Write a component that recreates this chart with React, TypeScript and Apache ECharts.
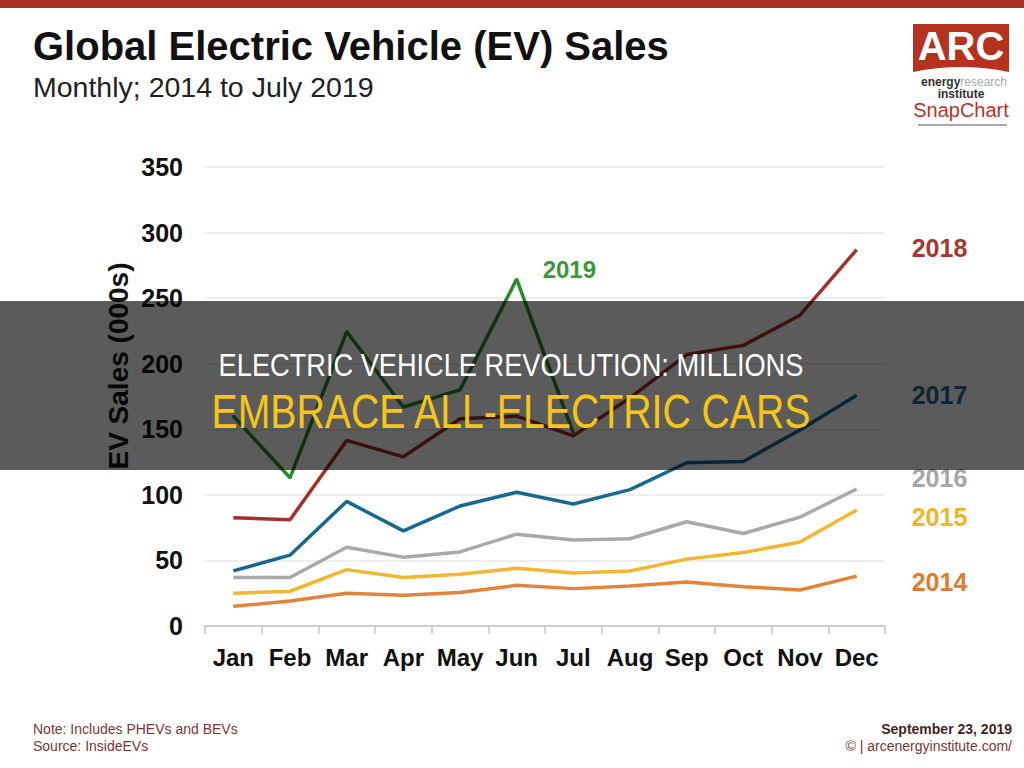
import React, { useEffect, useRef } from "react";
import * as echarts from "echarts";

const months = ["Jan", "Feb", "Mar", "Apr", "May", "Jun", "Jul", "Aug", "Sep", "Oct", "Nov", "Dec"];
const yTicks = { min: 0, max: 350, interval: 50 };

const sales2014 = [15, 19, 25, 23.5, 25.5, 31, 28.5, 30.5, 33.5, 30, 27.5, 38];
const sales2015 = [25, 26.5, 43, 37, 39.5, 44, 40.5, 42, 51, 56, 64, 88.5];
const sales2016 = [37, 37, 60, 52.5, 56.5, 70, 65.5, 66.5, 79.5, 70.5, 83, 104.5];
const sales2017 = [42, 54, 95, 72.5, 91.5, 102, 93, 104, 124.5, 125.5, 149.5, 176];
const sales2018 = [82.5, 81, 141.5, 129, 158, 160, 145, 174, 207, 214, 237, 287];
const sales2019 = [160, 113, 224.5, 167, 180, 264.5, 147];

const seriesNames = ["2014", "2015", "2016", "2017", "2018", "2019"];
const lineColors = ["#e4833a", "#f2b731", "#a9a9a9", "#17698f", "#a3302a", "#2d8a2d"];
const labelColors = ["#e07b30", "#f0b429", "#a6a6a6", "#1f6a94", "#a3392f", "#3a9a3a"];
const endLabelOffsets = [6, 7, -11, 0, -2, 0];

const FONT = "'Liberation Sans', Arial, Helvetica, sans-serif";

export default function App() {
  const ref = useRef<HTMLDivElement>(null);

  useEffect(() => {
    if (!ref.current) return;
    const chart = echarts.init(ref.current, null, { renderer: "svg" });

    echarts.graphic.registerShape(
      "arcLogo",
      echarts.graphic.extendPath("M0,0 L96,0 L96,48 Q48,38 0,48 Z", {})
    );

    const allData = [sales2014, sales2015, sales2016, sales2017, sales2018, sales2019];

    const series: any[] = allData.map((d, i) => {
      const isLast = i === 5;
      const base: any = {
        name: seriesNames[i],
        type: "line",
        data: d,
        symbol: "none",
        lineStyle: { color: lineColors[i], width: 3.5 },
        itemStyle: { color: lineColors[i] },
        z: 2 + i,
      };
      if (isLast) {
        base.symbol = "circle";
        base.symbolSize = 2;
        base.showSymbol = true;
        base.showAllSymbol = true;
        base.label = {
          show: true,
          position: "right",
          distance: 25,
          offset: [0, -10],
          formatter: (p: any) => (p.dataIndex === 5 ? p.seriesName : ""),
          color: labelColors[i],
          fontSize: 24,
          fontWeight: "bold",
          fontFamily: FONT,
        };
      } else {
        base.endLabel = {
          show: true,
          formatter: "{a}",
          distance: 55,
          offset: [0, endLabelOffsets[i]],
          color: labelColors[i],
          fontSize: 25,
          fontWeight: "bold",
          fontFamily: FONT,
        };
      }
      return base;
    });

    chart.setOption({
      animation: false,
      backgroundColor: "#ffffff",
      title: [
        {
          text: "Global Electric Vehicle (EV) Sales",
          left: 33,
          top: 26,
          padding: 0,
          textStyle: { fontSize: 40, fontWeight: "bold", color: "#111", fontFamily: FONT },
        },
        {
          text: "Monthly; 2014 to July 2019",
          left: 33,
          top: 72,
          padding: 0,
          textStyle: { fontSize: 28.5, fontWeight: "normal", color: "#222", fontFamily: FONT },
        },
      ],
      grid: { left: 205, right: 139, top: 167, bottom: 142, containLabel: false },
      xAxis: {
        type: "category",
        data: months,
        boundaryGap: true,
        axisLine: { show: true, lineStyle: { color: "#c4c4c4", width: 1.5 } },
        axisTick: { show: true, length: 8, lineStyle: { color: "#c4c4c4", width: 1.5 } },
        axisLabel: {
          interval: 0,
          color: "#111",
          fontSize: 24,
          fontWeight: "bold",
          fontFamily: FONT,
          margin: 19,
        },
      },
      yAxis: {
        type: "value",
        min: yTicks.min,
        max: yTicks.max,
        interval: yTicks.interval,
        axisLine: { show: false },
        axisTick: { show: false },
        splitLine: { lineStyle: { color: "#e8e8e8", width: 1.5 } },
        axisLabel: { color: "#111", fontSize: 25, fontWeight: "bold", fontFamily: FONT, margin: 22 },
      },
      series,
      graphic: [
        { type: "rect", shape: { x: 0, y: 0, width: 1024, height: 8 }, style: { fill: "#a83224" }, z: 10 },
        {
          type: "text",
          x: 118,
          y: 366,
          rotation: Math.PI / 2,
          style: {
            text: "EV Sales (000s)",
            fill: "#111",
            font: `bold 28px ${FONT}`,
            textAlign: "center",
            textVerticalAlign: "middle",
          },
          z: 10,
        },
        {
          type: "arcLogo",
          x: 913,
          y: 24,
          scaleX: 1,
          scaleY: 1,
          style: { fill: "#b5321f" },
          z: 10,
        },
        {
          type: "text",
          x: 961,
          y: 46,
          style: {
            text: "ARC",
            fill: "#ffffff",
            font: `bold 40px ${FONT}`,
            textAlign: "center",
            textVerticalAlign: "middle",
          },
          z: 11,
        },
        {
          type: "text",
          x: 921,
          y: 82,
          style: {
            text: "{a|energy}{b|research}",
            rich: {
              a: { fill: "#333", font: `bold 12px ${FONT}` },
              b: { fill: "#aaaaaa", font: `12px ${FONT}` },
            },
            textVerticalAlign: "middle",
          },
          z: 11,
        },
        {
          type: "text",
          x: 961,
          y: 94,
          style: {
            text: "institute",
            fill: "#333",
            font: `bold 12px ${FONT}`,
            textAlign: "center",
            textVerticalAlign: "middle",
          },
          z: 11,
        },
        {
          type: "text",
          x: 961,
          y: 110,
          style: {
            text: "SnapChart",
            fill: "#b8312a",
            font: `20px ${FONT}`,
            textAlign: "center",
            textVerticalAlign: "middle",
          },
          z: 11,
        },
        {
          type: "line",
          shape: { x1: 918, y1: 125, x2: 1007, y2: 125 },
          style: { stroke: "#555", lineWidth: 1 },
          z: 11,
        },
        {
          type: "text",
          x: 33,
          y: 729,
          style: {
            text: "Note: Includes PHEVs and BEVs",
            fill: "#7d3535",
            font: `14px ${FONT}`,
            textVerticalAlign: "middle",
          },
        },
        {
          type: "text",
          x: 33,
          y: 746,
          style: {
            text: "Source: InsideEVs",
            fill: "#7d3535",
            font: `14px ${FONT}`,
            textVerticalAlign: "middle",
          },
        },
        {
          type: "text",
          x: 1012,
          y: 729,
          style: {
            text: "September 23, 2019",
            fill: "#4a1f1f",
            font: `bold 14px ${FONT}`,
            textAlign: "right",
            textVerticalAlign: "middle",
          },
        },
        {
          type: "text",
          x: 1012,
          y: 746,
          style: {
            text: "© | arcenergyinstitute.com/",
            fill: "#7d3535",
            font: `14px ${FONT}`,
            textAlign: "right",
            textVerticalAlign: "middle",
          },
        },
        {
          type: "rect",
          shape: { x: 0, y: 301, width: 1024, height: 169 },
          style: { fill: "rgba(0,0,0,0.645)" },
          z: 100,
        },
        {
          type: "text",
          x: 511,
          y: 365,
          scaleX: 0.85,
          style: {
            text: "ELECTRIC VEHICLE REVOLUTION: MILLIONS",
            fill: "#ffffff",
            font: `32px ${FONT}`,
            textAlign: "center",
            textVerticalAlign: "middle",
          },
          z: 101,
        },
        {
          type: "text",
          x: 511,
          y: 411,
          scaleX: 0.8,
          style: {
            text: "EMBRACE ALL-ELECTRIC CARS",
            fill: "#f5c518",
            font: `49px ${FONT}`,
            textAlign: "center",
            textVerticalAlign: "middle",
          },
          z: 101,
        },
      ],
    });

    return () => chart.dispose();
  }, []);

  return (
    <div
      ref={ref}
      style={{ position: "fixed", left: 0, top: 0, width: 1024, height: 768, background: "#fff" }}
    />
  );
}
